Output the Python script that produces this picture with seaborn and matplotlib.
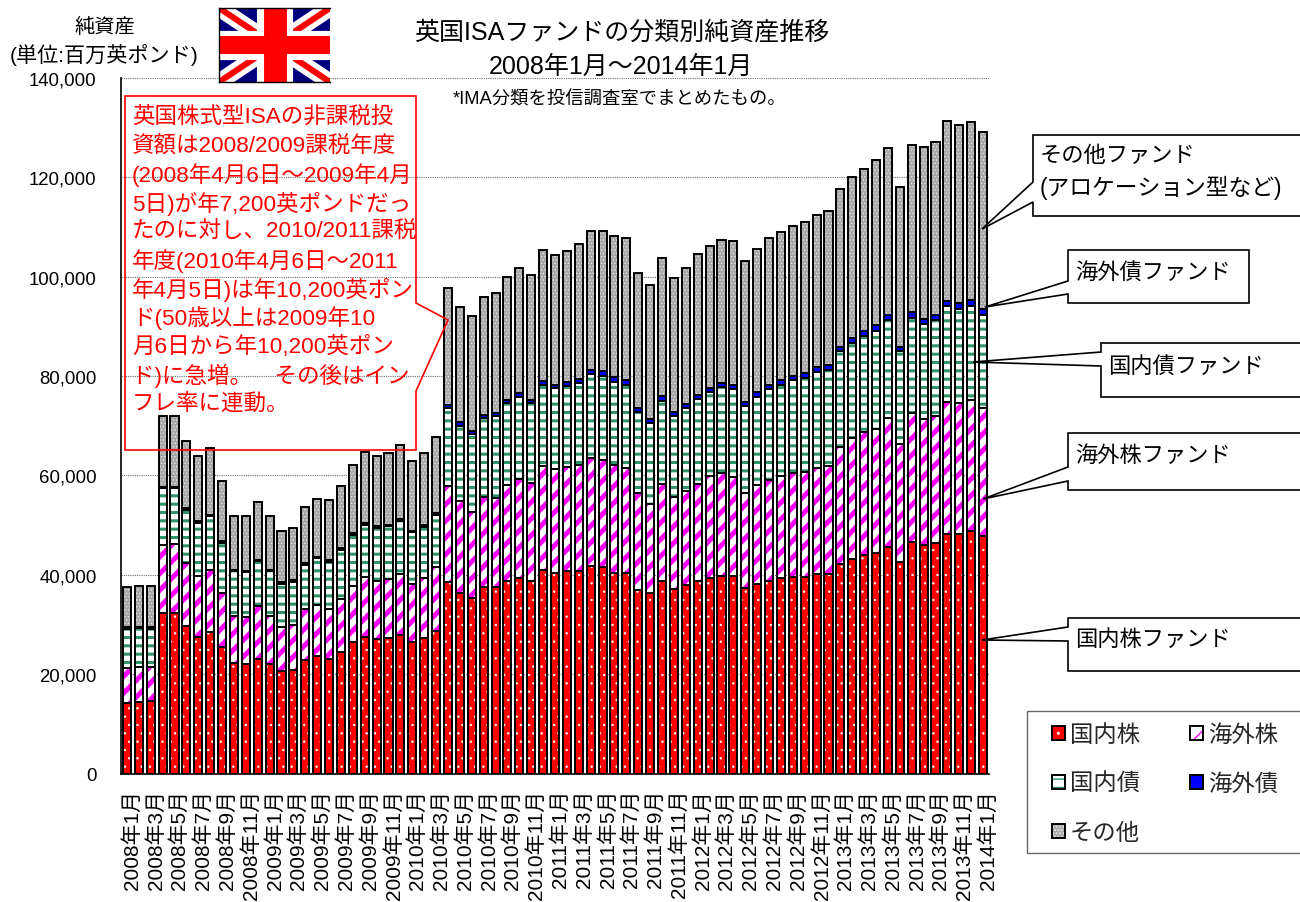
import matplotlib
matplotlib.use("Agg")
import matplotlib.pyplot as plt
import matplotlib.patches as mpatches
from matplotlib.colors import to_rgba
from matplotlib.transforms import ScaledTranslation
import pandas as pd
import seaborn as sns

# ---- data: stacked tops (million GBP) ----
years_months = [(y, m) for y in range(2008, 2014) for m in range(1, 13)] + [(2014, 1)]
months = [f"{y}年{m}月" for y, m in years_months]

top_domestic_equity = [
    14190,14460,14600,32300,32300,29600,27540,28400,25400,22180,22040,23050,22040,20700,20835,22850,23720,23050,24520,26400,27400,27080,27200,27880,26540,27340,28750,
    38600,36270,35260,37470,37470,38820,39350,38820,40960,
    40290,40700,40700,41830,41570,40360,40360,37000,36270,38680,37200,37940,38680,39280,39820,39750,37270,38210,38680,39350,39550,39620,40160,40160,42170,43170,43980,44450,45660,42640,46530,45990,46330,48210,48210,48880,47870]
top_foreign_equity = [
    21170,21500,21370,46000,46130,42370,39820,41030,36330,31640,31440,33650,31770,29420,29960,33110,33990,33110,35130,37810,39490,38820,39150,40160,38150,39350,41640,
    57880,54790,52710,55720,55460,58080,59280,58420,61900,
    61300,61770,62170,63580,63180,62100,61500,56470,54250,58280,55590,56800,58280,59950,60420,59750,56470,58080,59150,59820,60420,60760,61570,61970,65660,67540,68680,69350,71500,66330,72570,71360,72030,74850,74520,75190,73510]
top_domestic_bond = [
    29090,29220,29090,57400,57400,53100,50430,51770,46400,40700,40500,42710,40700,38150,38620,42040,43310,42640,45060,48080,50090,49420,49750,50890,48540,49690,52100,
    73500,70020,68340,71560,72030,74580,75850,74580,78270,
    77530,78070,78610,80350,80090,78880,78270,72840,70560,75050,71900,73510,75390,76870,77730,77400,73910,75720,77400,78270,79220,79620,80760,81290,84980,86660,88000,89140,91220,84980,91690,90490,91290,94040,93510,94040,92360]
top_foreign_bond = [
    29440,29570,29440,57750,57750,53450,50780,52120,46750,41050,40850,43060,41050,38500,38970,42390,43660,42990,45410,48430,50440,49770,50100,51240,48890,50040,52450,
    74180,70820,69000,72230,72570,75250,76540,75250,79070,
    78270,78750,79420,81290,81090,79750,79220,73570,71360,75920,72700,74380,76190,77670,78610,78270,74720,76730,78270,79220,80090,80630,81770,82240,85920,87670,89010,90290,92300,85790,92970,91500,92370,95190,94720,95320,93510]
top_other = [
    37470,37810,37680,71900,71900,66860,63840,65580,58810,51900,51770,54590,51900,48880,49420,53710,55250,55050,57930,62100,64650,63980,64520,66200,62910,64520,67670,
    97700,93900,92000,95900,96700,99900,101700,100300,105400,
    104370,105110,106520,109140,109270,108260,107730,100750,98340,103770,99810,101760,104570,106120,107330,107260,103100,105580,107860,109000,110140,111020,112360,113230,117730,120080,121750,123430,125910,118060,126580,126110,127050,131420,130480,131220,129080]

legend_labels = ["国内株", "国内債", "その他", "海外株", "海外債"]
y_ticks = [0, 20000, 40000, 60000, 80000, 100000, 120000, 140000]

note_lines = ["英国株式型ISAの非課税投", "資額は2008/2009課税年度", "(2008年4月6日～2009年4月",
              "5日)が年7,200英ポンドだっ", "たのに対し、2010/2011課税", "年度(2010年4月6日～2011",
              "年4月5日)は年10,200英ポン", "ド(50歳以上は2009年10", "月6日から年10,200英ポン",
              "ド)に急増。　その後はイン", "フレ率に連動。"]

# ---- setup ----
sns.set_theme(style="white")
FONT = ["Liberation Sans", "Noto Sans CJK JP"]
plt.rcParams["font.family"] = FONT
W, H = 1300, 903
fig = plt.figure(figsize=(13, 9.03), dpi=100, facecolor="white")
ax = fig.add_axes([121 / W, 1 - 774.5 / H, 868 / W, 695.5 / H])
ax.set_axisbelow(True)
df = pd.DataFrame(dict(month=months, domestic_equity=top_domestic_equity, foreign_equity=top_foreign_equity,
                       domestic_bond=top_domestic_bond, foreign_bond=top_foreign_bond, other=top_other))

BAR_W = 0.68
GRAY, GRAY_DOT = "#a8a8a8", "#e8e8e8"
GREEN = "#2f9368"
layers = [  # column, face, hatch, hatch colour, hatch linewidth
    ("other", GRAY, ".....", GRAY_DOT, 0.5),
    ("foreign_bond", "#0000ff", None, "#0000ff", 1.0),
    ("domestic_bond", "#ffffff", "--", GREEN, 2.2),
    ("foreign_equity", "#ffffff", "//", "#ff00ff", 3.6),
    ("domestic_equity", "#ff0000", "..", "#ffffff", 0.5),
]
for col, face, hatch, hcol, hlw in layers:
    plt.rcParams["hatch.linewidth"] = hlw
    sns.barplot(data=df, x="month", y=col, order=months, color=face, saturation=1, width=BAR_W,
                errorbar=None, edgecolor=hcol, hatch=hatch, linewidth=0, ax=ax)
    sns.barplot(data=df, x="month", y=col, order=months, color="black", saturation=1, width=BAR_W,
                errorbar=None, fill=False, linewidth=1.4, ax=ax)

ax.set_xlim(-0.5, len(months) - 0.5)
ax.set_ylim(0, 140000)
ax.set_xlabel("")
ax.set_ylabel("")
ax.yaxis.grid(True, ls=(0, (1, 1)), lw=0.8, color="#707070")
ax.set_yticks(y_ticks, [f"{v:,}" for v in y_ticks])
ax.tick_params(axis="y", length=0, pad=17.5, labelsize=13.4, labelcolor="black")
ax.set_xticks(range(0, len(months), 2), months[::2])
ax.tick_params(axis="x", length=0, pad=11, labelsize=15, labelcolor="black", labelrotation=90)
shift = ScaledTranslation(5 / 100, 0, fig.dpi_scale_trans)
for t in ax.get_xticklabels():
    t.set_ha("center")
    t.set_va("top")
    t.set_transform(t.get_transform() + shift)
sns.despine(ax=ax, top=True, right=True)
for s in ("left", "bottom"):
    ax.spines[s].set_color("black")
    ax.spines[s].set_linewidth(1.2)


def fx(x):
    return x / W


def fy(y):
    return 1 - y / H


def text(x, y, s, size, color="black", ha="left", zorder=10):
    fig.text(fx(x), fy(y), s, fontsize=size, color=color, ha=ha, va="center", family=FONT, zorder=zorder)


def outline(pts, edge="black", face="white", lw=1.2, zorder=5):
    fig.add_artist(mpatches.Polygon([(fx(x), fy(y)) for x, y in pts], closed=True, transform=fig.transFigure,
                                    facecolor=face, edgecolor=edge, linewidth=lw, zorder=zorder, clip_on=False))


# titles
text(622, 33, "英国ISAファンドの分類別純資産推移", 18, ha="center")
text(621, 67, "2008年1月～2014年1月", 18, ha="center")
text(620, 100, "*IMA分類を投信調査室でまとめたもの。", 13.2, ha="center")
text(105, 27, "純資産", 14.6, ha="center")
text(104, 55, "(単位:百万英ポンド)", 15.2, ha="center")

# red note (transparent callout)
outline([(125, 97), (416, 97), (416, 304), (448, 321), (416, 392), (416, 451), (125, 451)],
        edge="#ff0000", face="none", lw=1.2, zorder=6)
for i, line in enumerate(note_lines):
    text(132, 117.5 + i * 28.7, line, 16.2, color="#ff0000")

# right callouts
R = 1302
outline([(1033, 136), (R, 136), (R, 217), (1033, 217), (1033, 203), (982, 230), (1033, 183)])
text(1040, 156, "その他ファンド", 16)
text(1040, 188, "(アロケーション型など)", 16.4)
outline([(1068, 251), (1249, 251), (1249, 304), (1068, 304), (1068, 295), (985, 308), (1068, 282)])
text(1075, 273, "海外債ファンド", 16)
outline([(1101, 344), (R, 344), (R, 398), (1101, 398), (1101, 367), (973, 363), (1101, 353)])
text(1108, 367, "国内債ファンド", 16)
outline([(1068, 434), (R, 434), (R, 491), (1068, 491), (1068, 482), (983, 500), (1068, 468)])
text(1075, 456, "海外株ファンド", 16)
outline([(1068, 619), (R, 619), (R, 672), (1068, 672), (1068, 642), (982, 641), (1068, 628)])
text(1075, 641, "国内株ファンド", 16)

# legend
outline([(1027, 712), (R, 712), (R, 854), (1027, 854)], edge="#666666", lw=1.0)
leg_style = {"国内株": ("#ff0000", "..", "#ffffff"), "国内債": ("#ffffff", "--", GREEN),
             "その他": (GRAY, ".....", GRAY_DOT), "海外株": ("#ffffff", "//", "#ff00ff"),
             "海外債": ("#0000ff", None, "#0000ff")}
plt.rcParams["hatch.linewidth"] = 1.0
handles = [mpatches.Patch(facecolor=leg_style[l][0], edgecolor="black", hatch=leg_style[l][1], linewidth=1.4)
           for l in legend_labels]
leg = fig.legend(handles, legend_labels, loc="upper left", ncols=2, mode="expand",
                 bbox_to_anchor=(fx(1052), fy(840), 226 / W, 116 / H),
                 frameon=False, borderpad=0, labelspacing=1.12, handlelength=0.55, handleheight=0.55,
                 handletextpad=0.2, borderaxespad=0, prop={"family": FONT, "size": 16.8})
leg.set_zorder(7)
for patch, l in zip(leg.get_patches(), legend_labels):
    patch._hatch_color = to_rgba(leg_style[l][2])

# Union flag
fl = fig.add_axes([219 / W, 1 - 83 / H, 111 / W, 74 / H], zorder=8)
fl.set_facecolor("#00007f")
fl.set_xticks([])
fl.set_yticks([])
for sp in fl.spines.values():
    sp.set_color("black")
    sp.set_linewidth(1.0)
fl.spines["right"].set_visible(False)
for (x0, x1), (y0, y1) in (((0, 111), (0, 74)), ((0, 111), (74, 0))):
    fl.plot([x0, x1], [y0, y1], color="white", lw=12, solid_capstyle="butt")
    fl.plot([x0, x1], [y0, y1], color="#ff0000", lw=4.4, solid_capstyle="butt")
fl.plot([56, 56], [0, 74], color="white", lw=26, solid_capstyle="butt")
fl.plot([0, 111], [37, 37], color="white", lw=21, solid_capstyle="butt")
fl.plot([56, 56], [0, 74], color="#ff0000", lw=16.5, solid_capstyle="butt")
fl.plot([0, 111], [37, 37], color="#ff0000", lw=13, solid_capstyle="butt")
fl.set_xlim(0, 111)
fl.set_ylim(74, 0)

fig.savefig("out.png", dpi=100, facecolor="white")
